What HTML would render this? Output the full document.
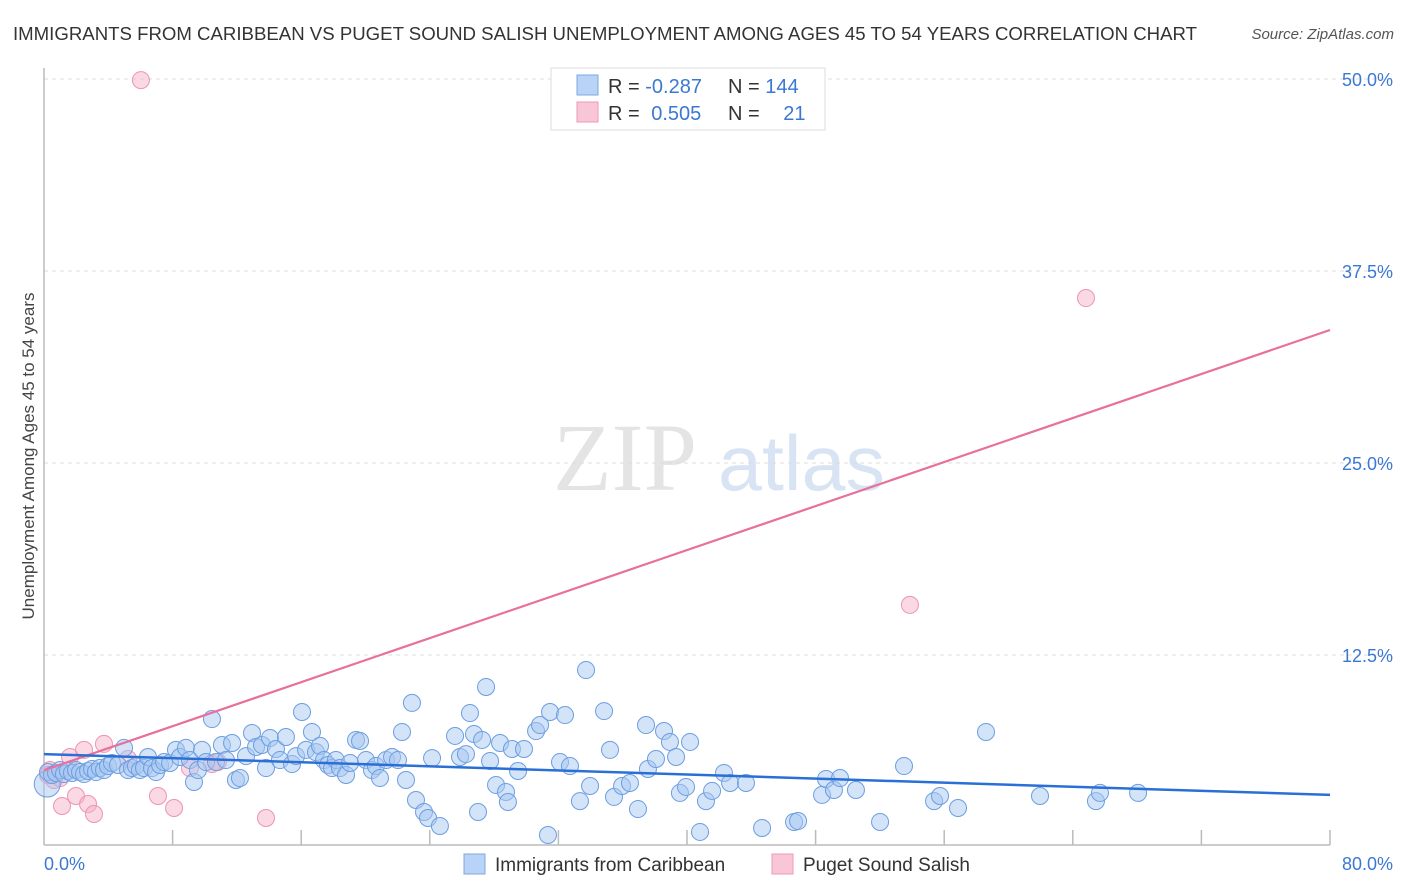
<!DOCTYPE html>
<html><head><meta charset="utf-8"><style>
body{margin:0;background:#fff;font-family:"Liberation Sans",sans-serif}
svg{display:block}
</style></head><body>
<svg id="chart" width="1406" height="892" viewBox="0 0 1406 892" xmlns="http://www.w3.org/2000/svg" font-family="Liberation Sans, sans-serif">
<text x="13" y="40" font-size="18" fill="#333" textLength="1184" lengthAdjust="spacingAndGlyphs">IMMIGRANTS FROM CARIBBEAN VS PUGET SOUND SALISH UNEMPLOYMENT AMONG AGES 45 TO 54 YEARS CORRELATION CHART</text>
<text x="1394" y="39" font-size="15" fill="#555" font-style="italic" text-anchor="end">Source: ZipAtlas.com</text>
<g>
<text x="553" y="490" font-family="Liberation Serif, serif" font-size="96" fill="#e4e4e4">ZIP</text>
<text x="718" y="490" font-size="78" fill="#d8e4f4" textLength="167" lengthAdjust="spacingAndGlyphs">atlas</text>
</g>
<g id="grid"></g>
<g id="axes"></g>
<g id="pinkPts"></g>
<g id="bluePts"></g>
<g id="trends"></g>
<text transform="translate(34,456) rotate(-90)" font-size="17" fill="#444" text-anchor="middle">Unemployment Among Ages 45 to 54 years</text>
<g>
<rect x="551" y="68" width="274" height="62" fill="#fff" stroke="#ddd"/>
<rect x="577" y="75" width="21" height="20" fill="#b8d3f5" stroke="#7aaae6"/>
<rect x="577" y="102" width="21" height="20" fill="#f8c6d6" stroke="#ee9ab5"/>
<text x="608" y="93" font-size="20" fill="#333">R = <tspan fill="#3a78d4">-0.287</tspan></text>
<text x="728" y="93" font-size="20" fill="#333">N = <tspan fill="#3a78d4">144</tspan></text>
<text x="608" y="120" font-size="20" fill="#333">R = <tspan fill="#3a78d4" dx="6">0.505</tspan></text>
<text x="728" y="120" font-size="20" fill="#333">N = <tspan fill="#3a78d4" dx="18">21</tspan></text>
</g>
<g>
<rect x="464" y="854" width="21" height="20" fill="#b8d3f5" stroke="#7aaae6"/>
<text x="495" y="871" font-size="19" fill="#333">Immigrants from Caribbean</text>
<rect x="772" y="854" width="21" height="20" fill="#f8c6d6" stroke="#ee9ab5"/>
<text x="803" y="871" font-size="19" fill="#333">Puget Sound Salish</text>
</g>
</svg>
<script>
const yTicks=[12.5,25,37.5,50];
const yTickLabels=["12.5%","25.0%","37.5%","50.0%"];
const xTickVals=[8,16,24,32,40,48,56,64,72,80];
const xLabels=["0.0%","80.0%"];
const blueX=[.25,.5,.75,1,1.24,1.49,1.74,1.99,2.24,2.49,2.74,2.99,3.23,3.48,3.73,3.98,4.23,4.6,4.98,5.23,5.47,5.72,5.97,6.22,6.47,6.72,6.97,7.22,7.47,7.84,8.21,8.46,8.83,9.08,9.33,9.58,9.83,10.08,10.45,10.7,11.07,11.32,11.7,11.94,12.19,12.57,12.94,13.19,13.56,13.81,14.06,14.43,14.68,15.05,15.43,15.68,16.05,16.3,16.67,16.92,17.17,17.42,17.67,17.92,18.16,18.41,18.79,19.04,19.41,19.66,20.03,20.4,20.65,20.9,21.28,21.65,22.02,22.27,22.52,22.89,23.14,23.64,23.89,24.14,24.63,25.57,25.88,26.25,26.5,26.75,27.0,27.25,27.5,27.75,28.12,28.37,28.74,28.86,29.11,29.49,29.86,30.61,30.86,31.35,31.48,32.1,32.41,32.72,33.34,33.72,33.97,34.84,35.21,35.46,35.96,36.45,36.95,37.45,37.57,38.07,38.57,38.94,39.32,39.56,39.94,40.19,40.81,41.18,41.56,42.3,42.68,43.67,44.67,46.66,46.91,48.4,48.65,49.14,49.52,50.51,52.01,53.5,55.37,55.74,56.86,58.6,61.96,65.44,65.69,68.06];
const blueY=[4.88,4.69,4.82,5.01,4.75,4.95,4.82,5.01,4.88,4.75,4.95,5.08,4.88,5.14,5.01,5.27,5.47,5.34,6.45,5.01,5.14,5.27,5.01,5.14,5.86,5.14,4.88,5.34,5.53,5.47,6.32,5.86,6.45,5.66,4.23,5.01,6.32,5.53,8.33,5.53,6.64,5.66,6.77,4.36,4.49,5.92,7.42,6.51,6.64,5.14,7.1,6.38,5.66,7.16,5.4,5.92,8.79,6.32,7.49,6.18,6.58,5.66,5.34,5.14,5.66,5.14,4.69,5.47,6.97,6.9,5.66,5.01,5.27,4.49,5.66,5.86,5.66,7.49,4.36,9.38,3.06,2.28,1.89,5.79,1.37,7.23,5.86,6.05,8.72,7.36,2.28,6.97,10.42,5.6,4.04,6.77,3.58,2.93,6.38,4.95,6.38,7.55,7.94,0.78,8.79,5.53,8.59,5.27,2.99,11.52,3.97,8.85,6.32,3.26,3.97,4.17,2.47,7.94,5.08,5.73,7.55,6.84,5.86,3.52,3.91,6.84,0.98,2.99,3.65,4.82,4.17,4.17,1.24,1.63,1.69,3.39,4.43,3.71,4.49,3.71,1.63,5.27,2.99,3.32,2.54,7.49,3.32,2.99,3.52,3.52];
const pinkX=[.37,.25,.62,1.0,1.12,1.62,1.99,2.49,2.74,3.11,3.73,5.23,6.03,7.09,8.09,9.08,10.45,10.82,13.81,53.87,64.82];
const pinkY=[5.01,4.69,4.36,4.49,2.67,5.86,3.32,6.32,2.8,2.15,6.71,5.73,49.93,3.32,2.54,5.14,5.4,5.53,1.89,15.76,35.74];
const blueTrend=[6.05,3.39];
const pinkTrend=[5.0,33.66];

const NS="http://www.w3.org/2000/svg";
const X0=44,X1=1330,Y0=847,PXY=15.36;
const sx=v=>X0+(X1-X0)*v/80;
const sy=v=>Y0-v*PXY;
function mk(tag,attrs,parent){const e=document.createElementNS(NS,tag);for(const k in attrs)e.setAttribute(k,attrs[k]);parent.appendChild(e);return e;}
const grid=document.getElementById('grid'),axes=document.getElementById('axes');
yTicks.forEach((t,i)=>{
  const l=mk('line',{x1:X0,x2:1394,y1:sy(t),y2:sy(t),stroke:'#ddd','stroke-dasharray':'4,4'},grid);
  
  
  const tx=mk('text',{x:1393,y:sy(t)+7,'font-size':18,fill:'#3a78d4','text-anchor':'end'},axes);
  tx.textContent=yTickLabels[i];
  
  
});
const ya=mk('line',{x1:X0,x2:X0,y1:68,y2:845,stroke:'#bbb','stroke-width':1.5},axes);


const xa=mk('line',{x1:X0,x2:X1,y1:845,y2:845,stroke:'#bbb','stroke-width':1.5},axes);


xTickVals.forEach(v=>{
  const t=mk('line',{x1:sx(v),x2:sx(v),y1:830,y2:845,stroke:'#bbb','stroke-width':1.5},axes);
  
  
});
const xl0=mk('text',{x:44,y:870,'font-size':18,fill:'#3a78d4'},axes);xl0.textContent=xLabels[0];


const xl1=mk('text',{x:1393,y:870,'font-size':18,fill:'#3a78d4','text-anchor':'end'},axes);xl1.textContent=xLabels[1];


const pg=document.getElementById('pinkPts');
pinkX.forEach((x,i)=>{
  const c=mk('circle',{cx:sx(x),cy:sy(pinkY[i]),r:8.5,fill:'rgba(246,178,202,0.5)',stroke:'#ec95b2','stroke-width':1},pg);
  
  
});
const bg=document.getElementById('bluePts');
const big=mk('circle',{cx:sx(0.2),cy:sy(4.1),r:13,fill:'rgba(168,200,242,0.5)',stroke:'#6c9ee0','stroke-width':1},bg);


blueX.forEach((x,i)=>{
  const c=mk('circle',{cx:sx(x),cy:sy(blueY[i]),r:8.5,fill:'rgba(168,200,242,0.5)',stroke:'#6c9ee0','stroke-width':1},bg);
  
  
});
const tg=document.getElementById('trends');
const pt=mk('line',{x1:sx(0),y1:sy(pinkTrend[0]),x2:sx(80),y2:sy(pinkTrend[1]),stroke:'#e8709a','stroke-width':2.2},tg);


const bt=mk('line',{x1:sx(0),y1:sy(blueTrend[0]),x2:sx(80),y2:sy(blueTrend[1]),stroke:'#2a6fd6','stroke-width':2.5},tg);


</script>
</body></html>
